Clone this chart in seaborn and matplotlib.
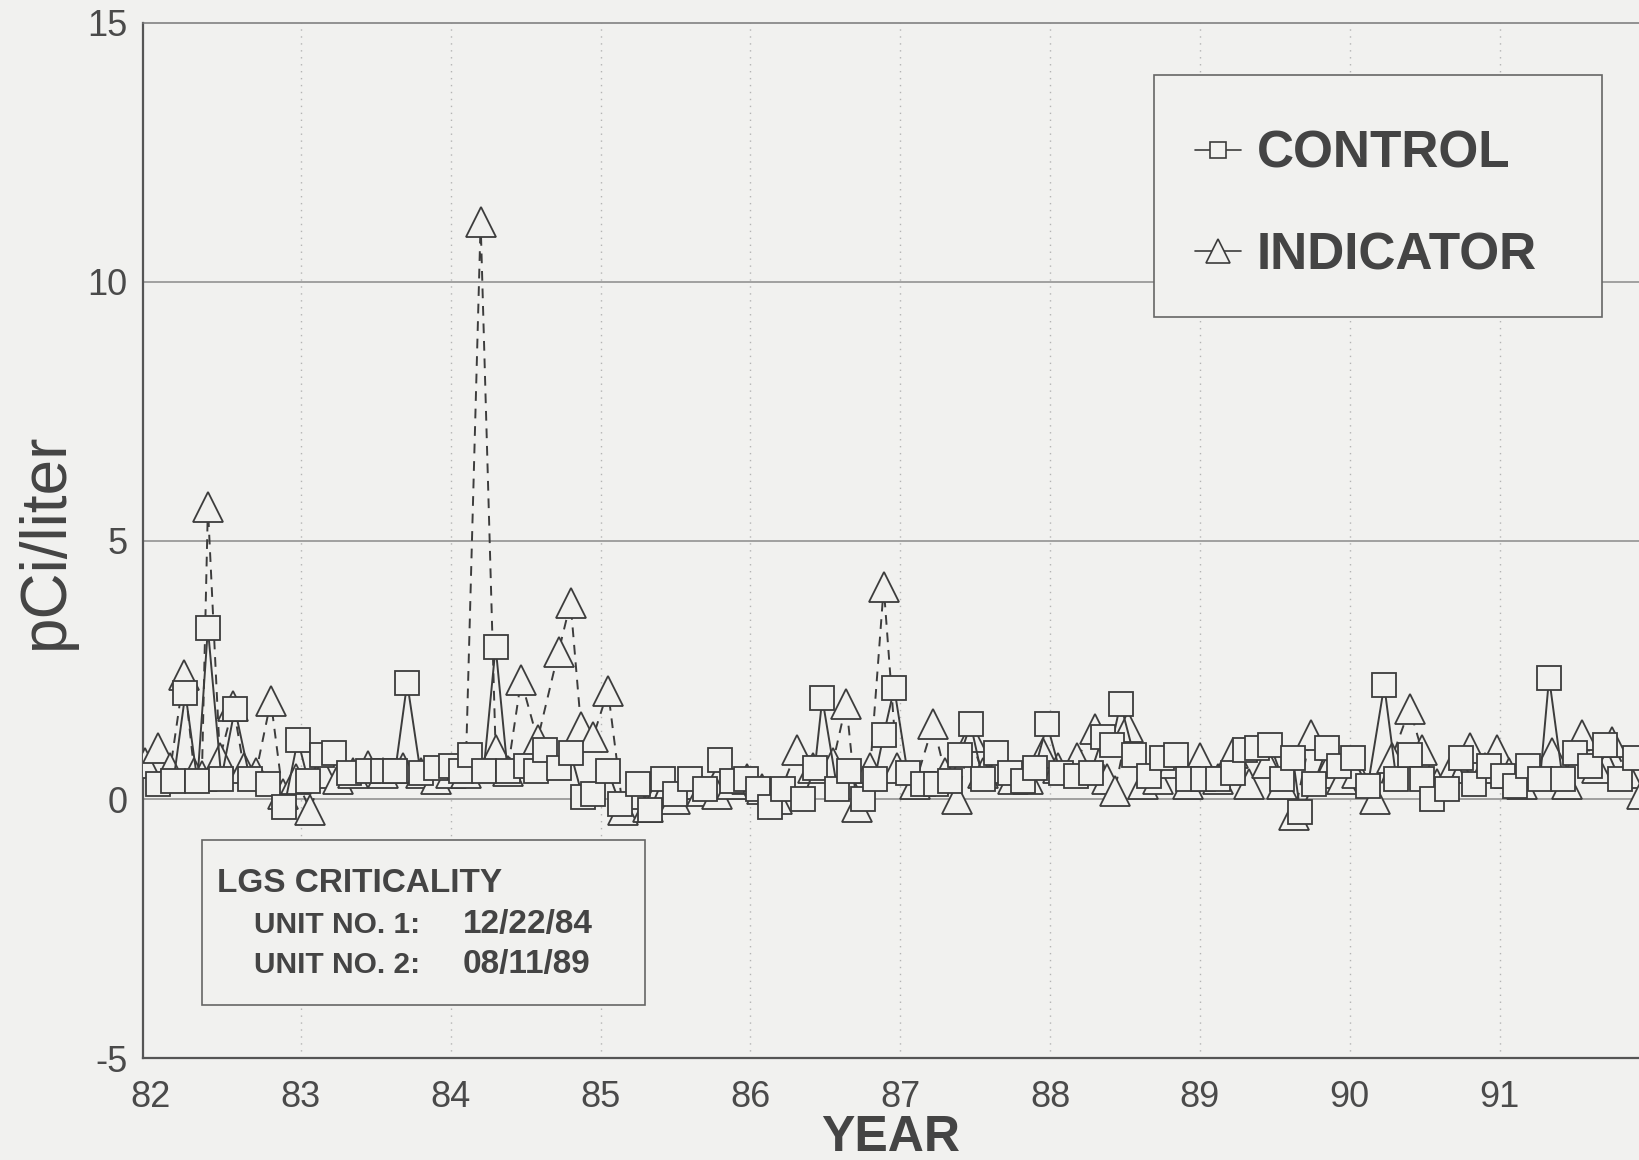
import matplotlib
matplotlib.use("Agg")
import matplotlib.pyplot as plt
from matplotlib.lines import Line2D
from matplotlib.patches import Rectangle
from matplotlib.ticker import MultipleLocator
import seaborn as sns
import pandas as pd

# Control station results (year, pCi/liter)
ctrl_year = [82.05, 82.15, 82.23, 82.31, 82.38, 82.47, 82.56, 82.66, 82.78, 82.89,
             82.98, 83.05, 83.14, 83.22, 83.32, 83.45, 83.55, 83.63, 83.71, 83.80,
             83.90, 84.00, 84.07, 84.13, 84.22, 84.30, 84.38, 84.50, 84.57, 84.63,
             84.72, 84.80, 84.88, 84.95, 85.05, 85.13, 85.25, 85.33, 85.42, 85.50,
             85.60, 85.70, 85.80, 85.88, 85.97, 86.05, 86.13, 86.22, 86.35, 86.43,
             86.48, 86.58, 86.66, 86.75, 86.83, 86.89, 86.96, 87.05, 87.15, 87.24,
             87.33, 87.40, 87.47, 87.55, 87.64, 87.73, 87.82, 87.90, 87.98, 88.07,
             88.17, 88.27, 88.35, 88.41, 88.47, 88.56, 88.66, 88.75, 88.84, 88.92,
             89.02, 89.12, 89.22, 89.30, 89.38, 89.47, 89.55, 89.62, 89.67, 89.76,
             89.85, 89.93, 90.02, 90.12, 90.23, 90.31, 90.40, 90.48, 90.55, 90.65,
             90.74, 90.83, 90.93, 91.02, 91.10, 91.19, 91.27, 91.33, 91.42, 91.50,
             91.60, 91.70, 91.80, 91.90]
ctrl_val = [0.30, 0.35, 2.05, 0.35, 3.30, 0.40, 1.75, 0.40, 0.30, -0.15,
            1.15, 0.35, 0.85, 0.90, 0.50, 0.55, 0.55, 0.55, 2.25, 0.50,
            0.60, 0.65, 0.55, 0.85, 0.55, 2.95, 0.55, 0.65, 0.55, 0.95,
            0.60, 0.90, 0.05, 0.10, 0.55, -0.10, 0.30, -0.20, 0.40, 0.10,
            0.40, 0.20, 0.75, 0.35, 0.40, 0.20, -0.15, 0.20, 0.00, 0.60,
            1.95, 0.20, 0.55, 0.00, 0.40, 1.25, 2.15, 0.50, 0.30, 0.30,
            0.35, 0.85, 1.45, 0.40, 0.90, 0.50, 0.35, 0.60, 1.45, 0.50,
            0.45, 0.50, 1.20, 1.05, 1.85, 0.85, 0.45, 0.80, 0.85, 0.40,
            0.40, 0.40, 0.50, 0.95, 1.00, 1.05, 0.40, 0.80, -0.25, 0.30,
            1.00, 0.65, 0.80, 0.25, 2.20, 0.40, 0.85, 0.40, 0.00, 0.20,
            0.80, 0.30, 0.65, 0.45, 0.25, 0.65, 0.40, 2.35, 0.40, 0.90,
            0.65, 1.05, 0.40, 0.80]

# Indicator station results (year, pCi/liter)
ind_year = [81.96, 82.05, 82.13, 82.22, 82.29, 82.34, 82.38, 82.46, 82.55, 82.62,
            82.70, 82.80, 82.88, 82.97, 83.06, 83.15, 83.25, 83.35, 83.45, 83.55,
            83.68, 83.80, 83.90, 84.00, 84.10, 84.20, 84.30, 84.38, 84.47, 84.58,
            84.72, 84.80, 84.87, 84.95, 85.05, 85.15, 85.25, 85.32, 85.40, 85.50,
            85.60, 85.68, 85.78, 85.88, 85.98, 86.08, 86.18, 86.31, 86.42, 86.55,
            86.64, 86.71, 86.80, 86.89, 86.98, 87.10, 87.22, 87.30, 87.38, 87.47,
            87.55, 87.65, 87.75, 87.85, 87.95, 88.05, 88.18, 88.30, 88.38, 88.43,
            88.52, 88.62, 88.72, 88.82, 88.92, 89.00, 89.12, 89.22, 89.33, 89.45,
            89.55, 89.63, 89.74, 89.84, 89.95, 90.05, 90.17, 90.28, 90.40, 90.48,
            90.58, 90.68, 90.80, 90.90, 90.98, 91.06, 91.15, 91.25, 91.35, 91.45,
            91.55, 91.65, 91.75, 91.85, 91.95]
ind_val = [0.70, 1.00, 0.60, 2.40, 0.50, 0.45, 5.65, 0.80, 1.80, 0.60,
           0.50, 1.90, 0.10, 0.40, -0.20, 0.50, 0.40, 0.50, 0.65, 0.50,
           0.60, 0.50, 0.40, 0.50, 0.50, 11.15, 0.95, 0.55, 2.30, 1.15,
           2.85, 3.80, 1.40, 1.20, 2.10, -0.20, 0.10, -0.15, 0.20, 0.00,
           0.30, 0.15, 0.10, 0.30, 0.40, 0.20, 0.00, 0.95, 0.60, 0.70,
           1.85, -0.15, 0.60, 4.10, 0.60, 0.30, 1.45, 0.50, 0.00, 1.20,
           0.50, 0.60, 0.40, 0.40, 0.90, 0.60, 0.80, 1.35, 0.40, 0.15,
           1.40, 0.30, 0.40, 0.70, 0.30, 0.80, 0.40, 0.90, 0.30, 0.70,
           0.30, -0.30, 1.25, 0.50, 0.40, 0.50, 0.00, 0.80, 1.75, 0.95,
           0.30, 0.60, 1.00, 0.60, 0.95, 0.50, 0.30, 0.50, 0.90, 0.30,
           1.25, 0.60, 1.10, 0.50, 0.10]

year_ticks = [82, 83, 84, 85, 86, 87, 88, 89, 90, 91]
year_labels = ["82", "83", "84", "85", "86", "87", "88", "89", "90", "91"]
series_labels = ["CONTROL", "INDICATOR"]
criticality_title = "LGS CRITICALITY"
criticality_units = ["UNIT NO. 1:", "UNIT NO. 2:"]
criticality_dates = ["12/22/84", "08/11/89"]

BG = "#f1f1ef"
INK = "#3c3c3c"
GRID = "#8a8a8a"

sns.set_style("white")
plt.rcParams["font.family"] = ["Liberation Sans", "DejaVu Sans"]
plt.rcParams["axes.unicode_minus"] = False

W, H = 1639, 1160
fig = plt.figure(figsize=(W / 100, H / 100), dpi=100, facecolor=BG)
ax = fig.add_axes([143 / W, 1 - 1058 / H, 1 - 143 / W, (1058 - 23) / H])
ax.set_facecolor(BG)

ctrl = pd.DataFrame({"year": ctrl_year, "value": ctrl_val})
ind = pd.DataFrame({"year": ind_year, "value": ind_val})

# solid horizontal grid, dotted year lines
for yv in (0, 5, 10):
    ax.axhline(yv, color=GRID, lw=1.1, zorder=0.5)
for xv in year_ticks[1:]:
    ax.axvline(xv, color="#b4b4b4", lw=1.0, ls=(0, (1, 4)), zorder=0.5)

sns.lineplot(data=ind, x="year", y="value", ax=ax, estimator=None, sort=False,
             color=INK, lw=1.4, linestyle=(0, (5, 4)), marker="^",
             markersize=21, markerfacecolor=BG, markeredgecolor=INK,
             markeredgewidth=1.3, zorder=3)
sns.lineplot(data=ctrl, x="year", y="value", ax=ax, estimator=None, sort=False,
             color=INK, lw=1.4, linestyle="-", marker="s",
             markersize=17, markerfacecolor=BG, markeredgecolor=INK,
             markeredgewidth=1.3, zorder=4)

ax.set_xlim(81.947, 91.93)
ax.set_ylim(-5, 15)

ax.set_xticks(year_ticks)
ax.set_xticklabels(year_labels)
ax.xaxis.set_minor_locator(MultipleLocator(1 / 12))
ax.set_yticks([-5, 0, 5, 10, 15])
ax.yaxis.set_minor_locator(MultipleLocator(1))

ax.tick_params(axis="both", which="major", direction="in", labelsize=26,
               labelcolor="#4a4a4a", color="#666666", width=1.0)
ax.tick_params(axis="x", which="major", length=22, pad=16)
ax.tick_params(axis="y", which="major", length=0, pad=11)
ax.tick_params(axis="both", which="minor", direction="in", length=9,
               color="#777777", width=0.9)
ax.tick_params(top=False, right=False, which="both")

for side in ("left", "bottom"):
    ax.spines[side].set_color("#555555")
    ax.spines[side].set_linewidth(1.6)
ax.spines["top"].set_color("#777777")
ax.spines["top"].set_linewidth(1.1)
ax.spines["right"].set_visible(False)

ax.set_xlabel("YEAR", fontsize=36, fontweight="bold", color="#444444", labelpad=0)
ax.set_ylabel("pCi/liter", fontsize=46, color="#444444", labelpad=8)

# legend: frame drawn as a separate box behind the entries
ax.add_patch(Rectangle((1154 / W, 1 - 317 / H), (1602 - 1154) / W, (317 - 75) / H,
                       transform=fig.transFigure, facecolor=BG, edgecolor="#666666",
                       lw=1.2, zorder=4.5, clip_on=False))
handles = [
    Line2D([], [], color=INK, lw=1.2, marker="s", markersize=12,
           markerfacecolor=BG, markeredgecolor=INK, markeredgewidth=1.2),
    Line2D([], [], color=INK, lw=1.2, marker="^", markersize=17,
           markerfacecolor=BG, markeredgecolor=INK, markeredgewidth=1.2),
]
leg = ax.legend(handles, series_labels, loc="upper left",
                bbox_to_anchor=((1154 - 8) / W, 1 - (75 + 6) / H),
                bbox_transform=fig.transFigure, borderaxespad=0,
                prop={"family": "Liberation Sans", "weight": "bold", "size": 37},
                handlelength=0.9, handletextpad=0.3, borderpad=0.95,
                labelspacing=1.02, frameon=False)
leg.set_zorder(5)
for t in leg.get_texts():
    t.set_color("#444444")

# unit criticality note
fig.patches.append(Rectangle((202 / W, 1 - 1005 / H), 443 / W, 165 / H,
                             transform=fig.transFigure, facecolor=BG,
                             edgecolor="#666666", lw=1.2, zorder=5))
note_kw = dict(fontweight="bold", color="#444444", va="center", zorder=6)
fig.text(217 / W, 1 - 883 / H, criticality_title, fontsize=24, **note_kw)
for i, (u, d) in enumerate(zip(criticality_units, criticality_dates)):
    yy = 1 - (925 + 40 * i) / H
    fig.text(254 / W, yy, u, fontsize=21.5, **note_kw)
    fig.text(463 / W, yy, d, fontsize=24, **note_kw)

fig.savefig("out.png", dpi=100, facecolor=BG)
